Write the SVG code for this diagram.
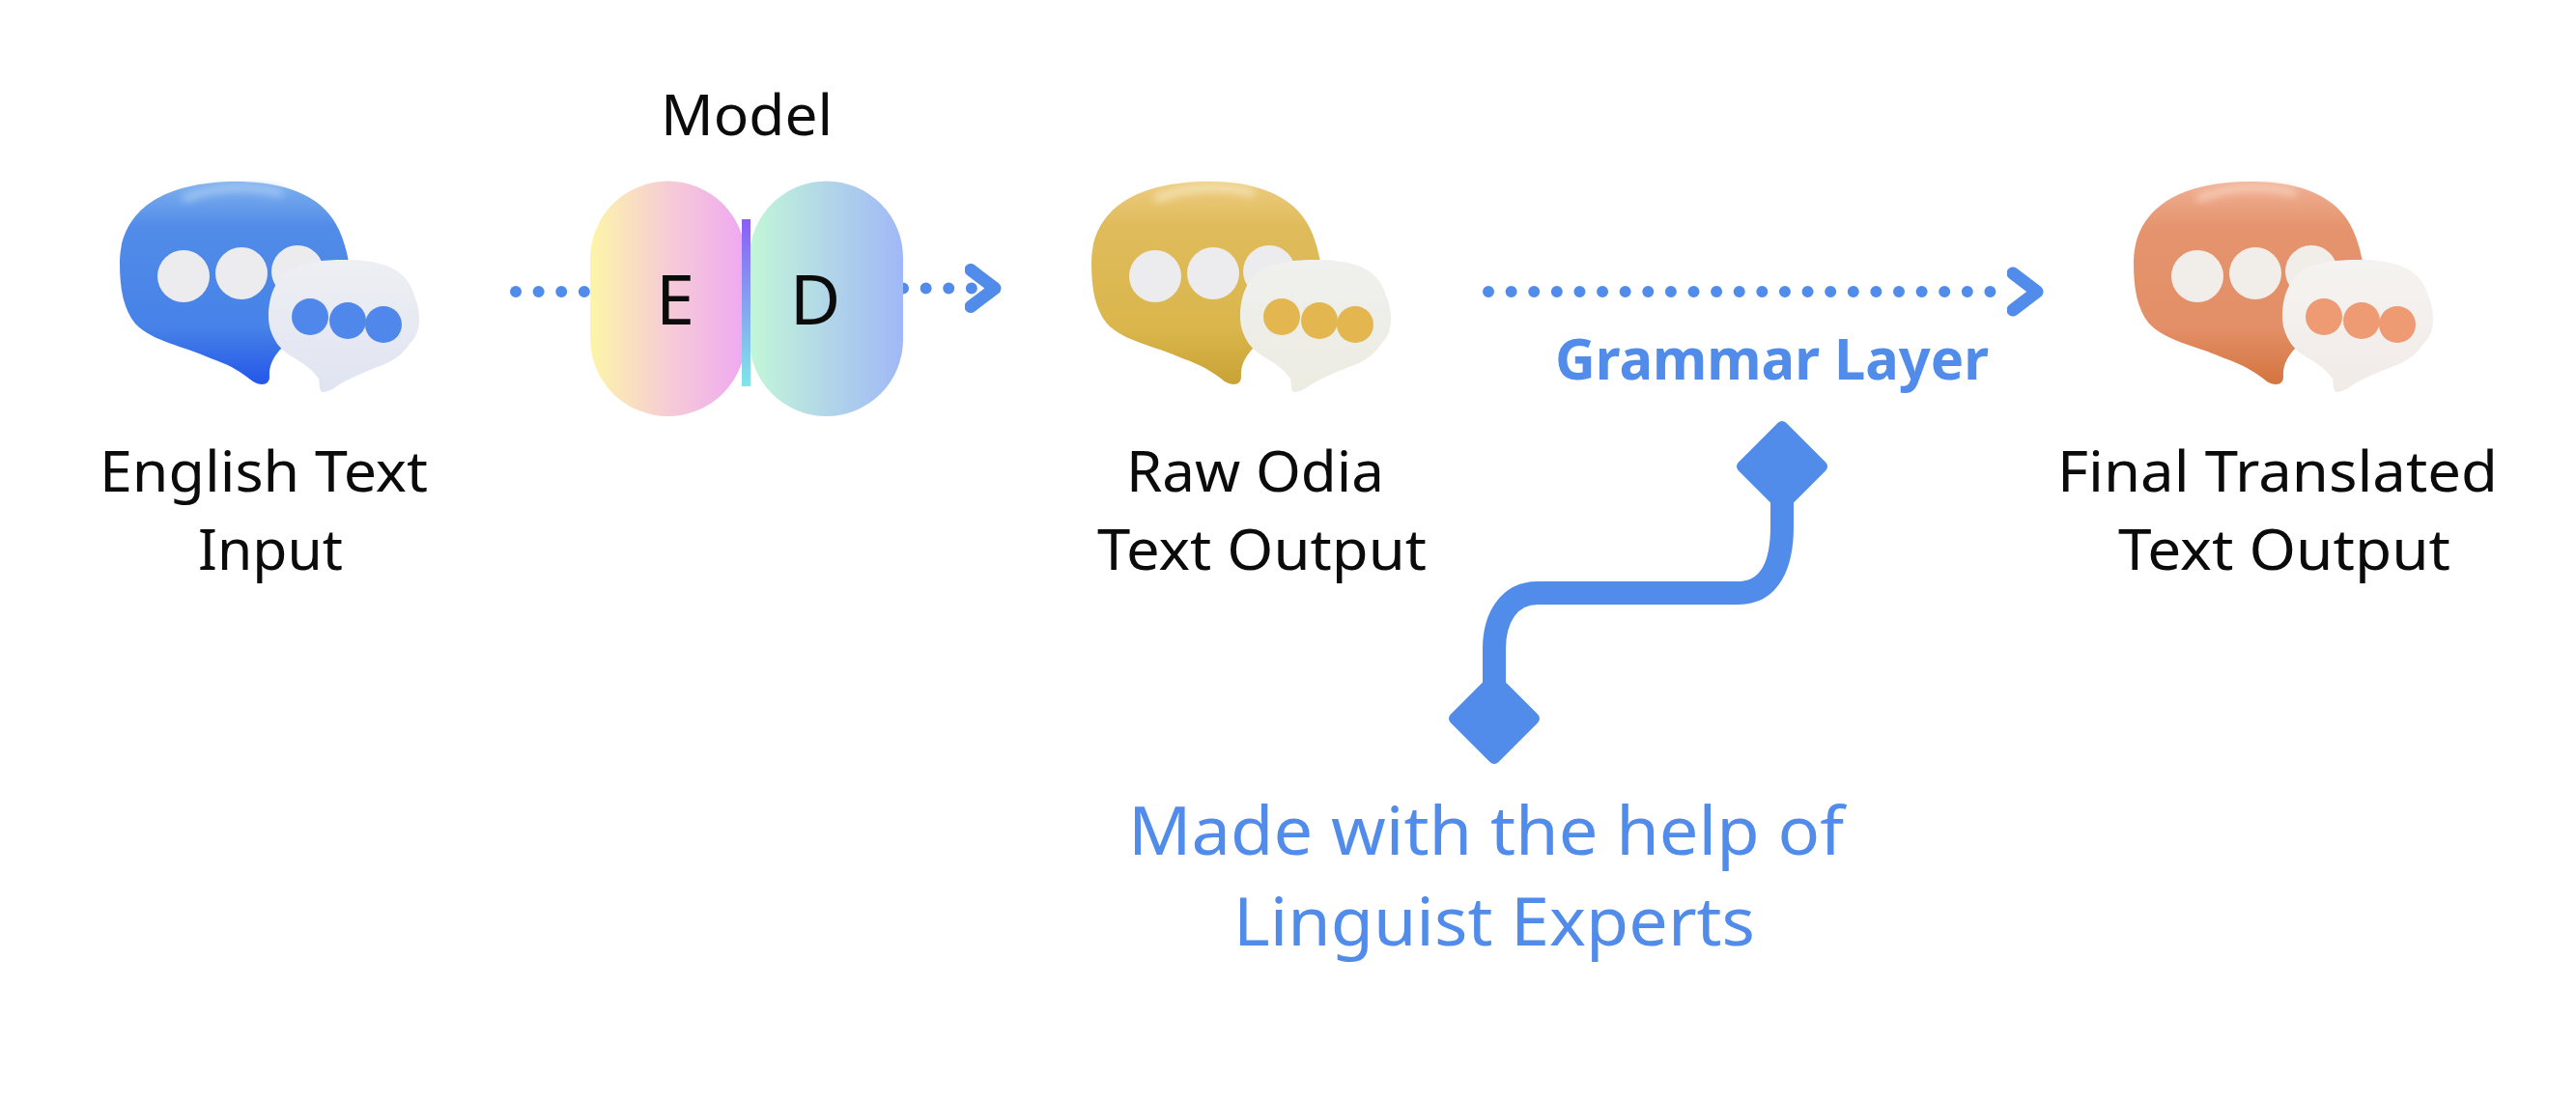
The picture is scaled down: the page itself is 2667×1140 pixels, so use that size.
<svg xmlns="http://www.w3.org/2000/svg" width="2667" height="1140" viewBox="0 0 2667 1140">
<style>
text{font-family:"Noto Sans","Open Sans",sans-serif;fill:#0b0b0b}
.l{font-size:59px}
.b{fill:#528ceb;stroke:#528ceb;stroke-width:12;stroke-linejoin:round}
.g{font-size:59px;font-weight:700;fill:#528ceb}
.m{font-size:70px;fill:#528ceb}
.dots{fill:none;stroke:#528ceb;stroke-width:12;stroke-linecap:round;stroke-dasharray:.01 23.6}
.big{fill:#ececef}
</style>
<defs>
<path id="main" d="M246 188C298 188 336 204 351 238C361 260 364 285 364 310L364 360L292 360C284 368 278 378 279 390C279 399 270 400 262 395C248 384 238 378 218 371C190 358 158 354 140 335C128 320 124 300 124 272C124 228 155 188 246 188Z"/>
<path id="small" d="M355 269C392 269 416 276 426 298C432 312 435 324 434 334C433 344 430 350 424 356C416 368 408 372 401 376C380 384 365 390 350 399C342 405 337 406 333 406C330 402 331 396 330 392C324 384 318 379 310 374C300 368 293 364 287 356C281 347 278 338 278 328C278 308 284 290 300 279C316 271 336 269 355 269Z"/>
<linearGradient id="bMain" x1="0" y1="0" x2="0" y2="1"><stop offset="0" stop-color="#7eb0ee"/><stop offset=".22" stop-color="#528ce8"/><stop offset=".72" stop-color="#4682e8"/><stop offset="1" stop-color="#2356e8"/></linearGradient>
<linearGradient id="yMain" x1="0" y1="0" x2="0" y2="1"><stop offset="0" stop-color="#eccb7e"/><stop offset=".22" stop-color="#e0bb5c"/><stop offset=".72" stop-color="#dab64c"/><stop offset="1" stop-color="#c9a235"/></linearGradient>
<linearGradient id="oMain" x1="0" y1="0" x2="0" y2="1"><stop offset="0" stop-color="#f0b094"/><stop offset=".22" stop-color="#e5946e"/><stop offset=".72" stop-color="#e38f67"/><stop offset="1" stop-color="#d4743f"/></linearGradient>
<linearGradient id="bSmall" x1="0" y1="0" x2="0" y2="1"><stop offset="0" stop-color="#eeeff3"/><stop offset="1" stop-color="#e0e4f2"/></linearGradient>
<linearGradient id="ySmall" x1="0" y1="0" x2="0" y2="1"><stop offset="0" stop-color="#f0f0ee"/><stop offset="1" stop-color="#ecece2"/></linearGradient>
<linearGradient id="oSmall" x1="0" y1="0" x2="0" y2="1"><stop offset="0" stop-color="#f5f3f1"/><stop offset="1" stop-color="#f1ebe7"/></linearGradient>
<linearGradient id="enc"><stop offset="0" stop-color="#fdf5a8"/><stop offset=".5" stop-color="#f6ccd6"/><stop offset="1" stop-color="#efa8f2"/></linearGradient>
<linearGradient id="dec"><stop offset="0" stop-color="#c2f7d8"/><stop offset=".5" stop-color="#b2d6e8"/><stop offset="1" stop-color="#a0b8f7"/></linearGradient>
<linearGradient id="bar" x1="0" y1="0" x2="0" y2="1"><stop offset="0" stop-color="#8a5ef8"/><stop offset="1" stop-color="#80e6e8"/></linearGradient>
<filter id="hi" x="-30%" y="-60%" width="160%" height="220%"><feGaussianBlur stdDeviation="4"/></filter>
<marker id="chev" markerUnits="userSpaceOnUse" markerWidth="50" markerHeight="60" viewBox="0 0 50 60" refX="31" refY="30" orient="auto"><path d="M6 11L31 30L6 49" fill="none" stroke="#528ceb" stroke-width="13" stroke-linecap="round" stroke-linejoin="round"/></marker>
<path id="dia" d="M0 -41L41 0L0 41L-41 0Z"/>
</defs>

<g id="connectors">
<path class="dots" d="M534 302H612"/>
<path class="dots" d="M935 298.5H1007"/>
<path d="M1007 298.5H1030" fill="none" marker-end="url(#chev)"/>
<path class="dots" d="M1541 302H2084"/>
<path d="M2084 302H2109" fill="none" marker-end="url(#chev)"/>
<path d="M1845 500V545C1845 585 1832 614 1800 614H1592C1562 614 1547 640 1547 672V740" fill="none" stroke="#528ceb" stroke-width="24"/>
</g>

<g id="node-english">
<use href="#main" fill="url(#bMain)"/>
<path d="M190 206Q240 186 292 200" fill="none" stroke="#a8cbf4" stroke-width="7" filter="url(#hi)"/>
<circle class="big" cx="190" cy="286" r="27"/><circle class="big" cx="250" cy="283" r="27"/><circle class="big" cx="308" cy="281" r="27"/>
<use href="#small" fill="url(#bSmall)"/>
<circle cx="321" cy="328" r="19" fill="#4f88ea"/><circle cx="360" cy="332" r="19" fill="#4f88ea"/><circle cx="397" cy="336" r="19" fill="#4f88ea"/>
<text class="l" x="103" y="509" textLength="340" lengthAdjust="spacingAndGlyphs">English Text</text>
<text class="l" x="205" y="590" textLength="150" lengthAdjust="spacingAndGlyphs">Input</text>
</g>

<g id="node-model">
<text class="l" x="684" y="140" textLength="178" lengthAdjust="spacingAndGlyphs">Model</text>
<rect x="611" y="187.5" width="161" height="243.5" rx="80.5" fill="url(#enc)"/>
<rect x="776" y="187.5" width="159" height="243.5" rx="79.5" fill="url(#dec)"/>
<rect x="768" y="227" width="9" height="173" fill="url(#bar)"/>
<text x="699" y="336" font-size="72" text-anchor="middle">E</text>
<text x="844" y="336" font-size="72" text-anchor="middle">D</text>
</g>

<g id="node-raw">
<g transform="translate(1006 0)">
<use href="#main" fill="url(#yMain)"/>
<path d="M190 206Q240 186 292 200" fill="none" stroke="#f6e6bc" stroke-width="7" filter="url(#hi)"/>
<circle class="big" cx="190" cy="286" r="27"/><circle class="big" cx="250" cy="283" r="27"/><circle class="big" cx="308" cy="281" r="27"/>
<use href="#small" fill="url(#ySmall)"/>
<circle cx="321" cy="328" r="19" fill="#e3b650"/><circle cx="360" cy="332" r="19" fill="#e3b650"/><circle cx="397" cy="336" r="19" fill="#e3b650"/>
</g>
<text class="l" x="1166" y="509" textLength="267" lengthAdjust="spacingAndGlyphs">Raw Odia</text>
<text class="l" x="1136" y="590" textLength="341" lengthAdjust="spacingAndGlyphs">Text Output</text>
</g>

<g id="node-final">
<g transform="translate(2085 0)">
<use href="#main" fill="url(#oMain)"/>
<path d="M190 206Q240 186 292 200" fill="none" stroke="#f8d0bc" stroke-width="7" filter="url(#hi)"/>
<circle class="big" cx="190" cy="286" r="27" style="fill:#f1ede9"/><circle class="big" cx="250" cy="283" r="27" style="fill:#f1ede9"/><circle class="big" cx="308" cy="281" r="27" style="fill:#f1ede9"/>
<use href="#small" fill="url(#oSmall)"/>
<circle cx="321" cy="328" r="19" fill="#ee9a72"/><circle cx="360" cy="332" r="19" fill="#ee9a72"/><circle cx="397" cy="336" r="19" fill="#ee9a72"/>
</g>
<text class="l" x="2130" y="509" textLength="456" lengthAdjust="spacingAndGlyphs">Final Translated</text>
<text class="l" x="2193" y="590" textLength="344" lengthAdjust="spacingAndGlyphs">Text Output</text>
</g>

<g id="node-grammar">
<text class="g" x="1610" y="393" textLength="449" lengthAdjust="spacingAndGlyphs">Grammar Layer</text>
<use href="#dia" x="1845" y="483" class="b"/>
</g>

<g id="node-experts">
<use href="#dia" x="1547" y="744" class="b"/>
<text class="m" x="1168" y="885" textLength="741" lengthAdjust="spacingAndGlyphs">Made with the help of</text>
<text class="m" x="1277" y="979" textLength="540" lengthAdjust="spacingAndGlyphs">Linguist Experts</text>
</g>
</svg>
